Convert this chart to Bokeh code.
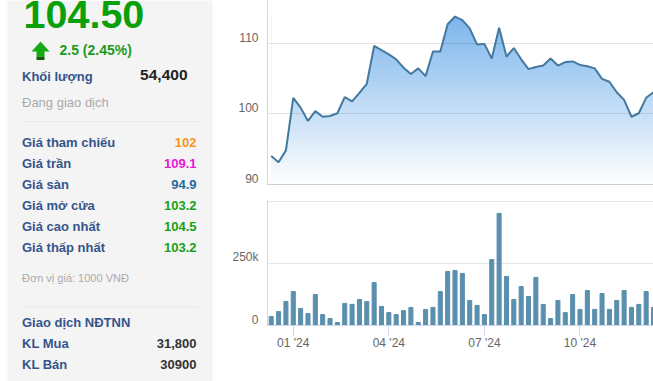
import numpy as np
from bokeh.core.properties import value
from bokeh.embed import file_html
from bokeh.layouts import column, row
from bokeh.models import FixedTicker, Grid, LinearAxis, Range1d
from bokeh.plotting import figure
from bokeh.resources import INLINE

FONT = "Liberation Sans"

# --- data ---------------------------------------------------------------
weeks = list(range(53))
prices = [94.0, 93.1, 94.8, 102.3, 100.9, 99.0, 100.4, 99.6, 99.7, 100.1, 102.4, 101.8,
          103.0, 104.3, 109.7, 109.1, 108.5, 107.8, 106.6, 105.7, 106.5, 105.4, 108.9, 108.9,
          112.8, 113.9, 113.4, 112.2, 109.9, 110.0, 107.9, 112.3, 108.2, 109.4, 107.8, 106.4,
          106.7, 106.9, 107.9, 106.9, 107.4, 107.5, 107.0, 106.8, 106.5, 105.0, 104.6, 103.1,
          102.0, 99.6, 100.1, 102.3, 103.1]
volumes = [36, 56, 97, 137, 69, 48, 125, 44, 28, 12, 89, 85, 105, 97, 173, 77, 52, 44, 60, 73,
           12, 65, 73, 137, 218, 222, 210, 101, 81, 44, 266, 452, 198, 105, 157, 117, 194, 85,
           28, 101, 52, 125, 65, 141, 65, 129, 65, 101, 141, 73, 85, 137, 73]
volume_values = [v * 1000 for v in volumes]
price_ticks = [90, 100, 110]
volume_ticks = [0, 250000, 500000]
volume_tick_labels = {0: "0", 250000: "250k", 500000: ""}
month_ticks = [3, 16, 29, 42]
month_labels = ["01 '24", "04 '24", "07 '24", "10 '24"]

headline = "104.50"
change = "2.5 (2.45%)"
side_labels = ["Giá tham chiếu", "Giá trần", "Giá sàn", "Giá mở cửa", "Giá cao nhất", "Giá thấp nhất"]
side_values = ["102", "109.1", "94.9", "103.2", "104.5", "103.2"]
side_colors = ["#f7941d", "#e916d8", "#1f6b9c", "#17a017", "#17a017", "#17a017"]
foreign_labels = ["KL Mua", "KL Bán", "GT Mua"]
foreign_values = ["31,800", "30900", "3.30 (Tỷ)"]

NAVY = "#34558b"
AXIS = "#ccd6eb"
GRID = "#e6e6e6"
TICK_TEXT = "#666666"
W_SIDE, W_CHART = 220, 433


def txt(p, x, y, s, color, size, style="bold", align="left"):
    p.text(x=[x], y=[y - 0.385 * size], text=[s], text_color=color, text_font=value(FONT),
           text_font_size=f"{size}px", text_font_style=style, text_align=align,
           text_baseline="alphabetic")


# --- side panel ---------------------------------------------------------
side = figure(width=W_SIDE, height=381, x_range=(0, W_SIDE), y_range=(381, 0),
              x_axis_type=None, y_axis_type=None, toolbar_location=None,
              output_backend="svg", min_border=0, outline_line_color=None)
side.grid.visible = False
side.quad(left=[7], right=[212], top=[0], bottom=[381], fill_color="#f4f4f4", line_color=None)
txt(side, 23, 29.5, headline, "#0aa00a", 39.5)
side.patch([40, 49, 44, 44, 36, 36, 31], [41, 51, 51, 56, 56, 51, 51], fill_color="#14ab14", line_color=None)
side.quad(left=[36], right=[44], top=[56], bottom=[59.5], fill_color="#0b5f0b", line_color=None)
txt(side, 59, 55, change, "#1d9a1d", 14)
txt(side, 21.5, 81, "Khối lượng", NAVY, 13)
txt(side, 187, 80, "54,400", "#222222", 15.5, align="right")
txt(side, 21.5, 107, "Đang giao dịch", "#aaaaaa", 13, style="normal")
side.segment([22, 22], [121, 306.5], [198, 198], [121, 306.5], line_color="#e9e9e9", line_width=1)
for i, (a, b, c) in enumerate(zip(side_labels, side_values, side_colors)):
    txt(side, 21.5, 147 + 21 * i, a, NAVY, 13)
    txt(side, 196, 147 + 21 * i, b, c, 13, align="right")
txt(side, 21.5, 281.5, "Đơn vị giá: 1000 VNĐ", "#aaaaaa", 11, style="normal")
txt(side, 21.5, 327, "Giao dịch NĐTNN", NAVY, 13)
for i, (a, b) in enumerate(zip(foreign_labels, foreign_values)):
    txt(side, 21.5, 348 + 20.8 * i, a, NAVY, 13)
    txt(side, 196, 348 + 20.8 * i, b, "#333333", 13, align="right")

# --- shared x scale -----------------------------------------------------
x_start, x_end = -0.505, 52.0

# --- price chart --------------------------------------------------------
P_TOP, P_BOTTOM = 116.19, 89.93
P_H = 190
price = figure(width=W_CHART, height=P_H, x_range=Range1d(x_start, x_end), y_range=Range1d(P_BOTTOM, P_TOP),
               toolbar_location=None, output_backend="svg", min_border_left=47, min_border_right=0,
               min_border_top=0, min_border_bottom=6, outline_line_color=None, y_axis_location=None)
price.xgrid.visible = False
price.ygrid.visible = False
price.xaxis.ticker = FixedTicker(ticks=[])
price.xaxis.major_label_text_font_size = "0px"
price.xaxis.axis_line_color = GRID
price.xaxis.major_tick_line_color = None
price.xaxis.minor_tick_line_color = None

n = 256
top_val = max(prices)
t = np.linspace(1, 0, n)[:, None]
rgba = np.zeros((n, 1), dtype=np.uint32)
view = rgba.view(dtype=np.uint8).reshape((n, 1, 4))
view[..., 0] = (255 + (124 - 255) * (1 - t)).astype(np.uint8)
view[..., 1] = (255 + (181 - 255) * (1 - t)).astype(np.uint8)
view[..., 2] = (255 + (236 - 255) * (1 - t)).astype(np.uint8)
view[..., 3] = 255
price.image_rgba(image=[rgba], x=[weeks[0]], y=[P_BOTTOM], dw=[weeks[-1] - weeks[0]], dh=[top_val - P_BOTTOM])
price.varea(x=weeks, y1=prices, y2=[P_TOP + 1] * len(weeks), fill_color="white")

g = Grid(dimension=1, ticker=FixedTicker(ticks=price_ticks), grid_line_color="#000000", grid_line_alpha=0.1)
g.level = "annotation"
price.add_layout(g)
price.line(weeks, prices, line_color="#43799f", line_width=2, level="overlay")

u = (P_TOP - P_BOTTOM) / 184
price.extra_y_ranges["lab"] = Range1d(P_BOTTOM - 6 * u, P_TOP - 6 * u)
a1 = LinearAxis(y_range_name="lab", ticker=FixedTicker(ticks=price_ticks), axis_line_color=AXIS,
                major_tick_line_color=None, minor_tick_line_color=None, major_label_standoff=3,
                major_label_text_color=TICK_TEXT, major_label_text_font=FONT,
                major_label_text_font_size="12px")
price.add_layout(a1, "left")

# --- volume chart -------------------------------------------------------
V_TOP = 504000
V_H = 191
vol = figure(width=W_CHART, height=V_H, x_range=Range1d(x_start, x_end), y_range=Range1d(0, V_TOP),
             toolbar_location=None, output_backend="svg", min_border_left=47, min_border_right=0,
             min_border_top=10, min_border_bottom=56, outline_line_color=None, y_axis_location=None)
vol.xgrid.visible = False
vol.ygrid.visible = False
vol.add_layout(Grid(dimension=1, ticker=FixedTicker(ticks=volume_ticks), grid_line_color=GRID))
vol.vbar(x=weeks, top=volume_values, width=0.55, color="#5a8fad")
vol.xaxis.ticker = FixedTicker(ticks=month_ticks)
vol.xaxis.major_label_overrides = dict(zip(month_ticks, month_labels))
vol.xaxis.axis_line_color = AXIS
vol.xaxis.major_tick_line_color = AXIS
vol.xaxis.major_tick_in = 0
vol.xaxis.major_tick_out = 10
vol.xaxis.minor_tick_line_color = None
vol.xaxis.major_label_standoff = 0
vol.xaxis.major_label_text_color = TICK_TEXT
vol.xaxis.major_label_text_font = FONT
vol.xaxis.major_label_text_font_size = "12px"

uv = V_TOP / 125
vol.extra_y_ranges["lab"] = Range1d(-6 * uv, V_TOP - 6 * uv)
a2 = LinearAxis(y_range_name="lab", ticker=FixedTicker(ticks=volume_ticks), axis_line_color=AXIS,
                major_label_overrides=volume_tick_labels,
                major_tick_line_color=None, minor_tick_line_color=None, major_label_standoff=3,
                major_label_text_color=TICK_TEXT, major_label_text_font=FONT,
                major_label_text_font_size="12px")
vol.add_layout(a2, "left")

page = row(side, column(price, vol, spacing=0), spacing=0)
open("out.html", "w").write(file_html(page, INLINE))
